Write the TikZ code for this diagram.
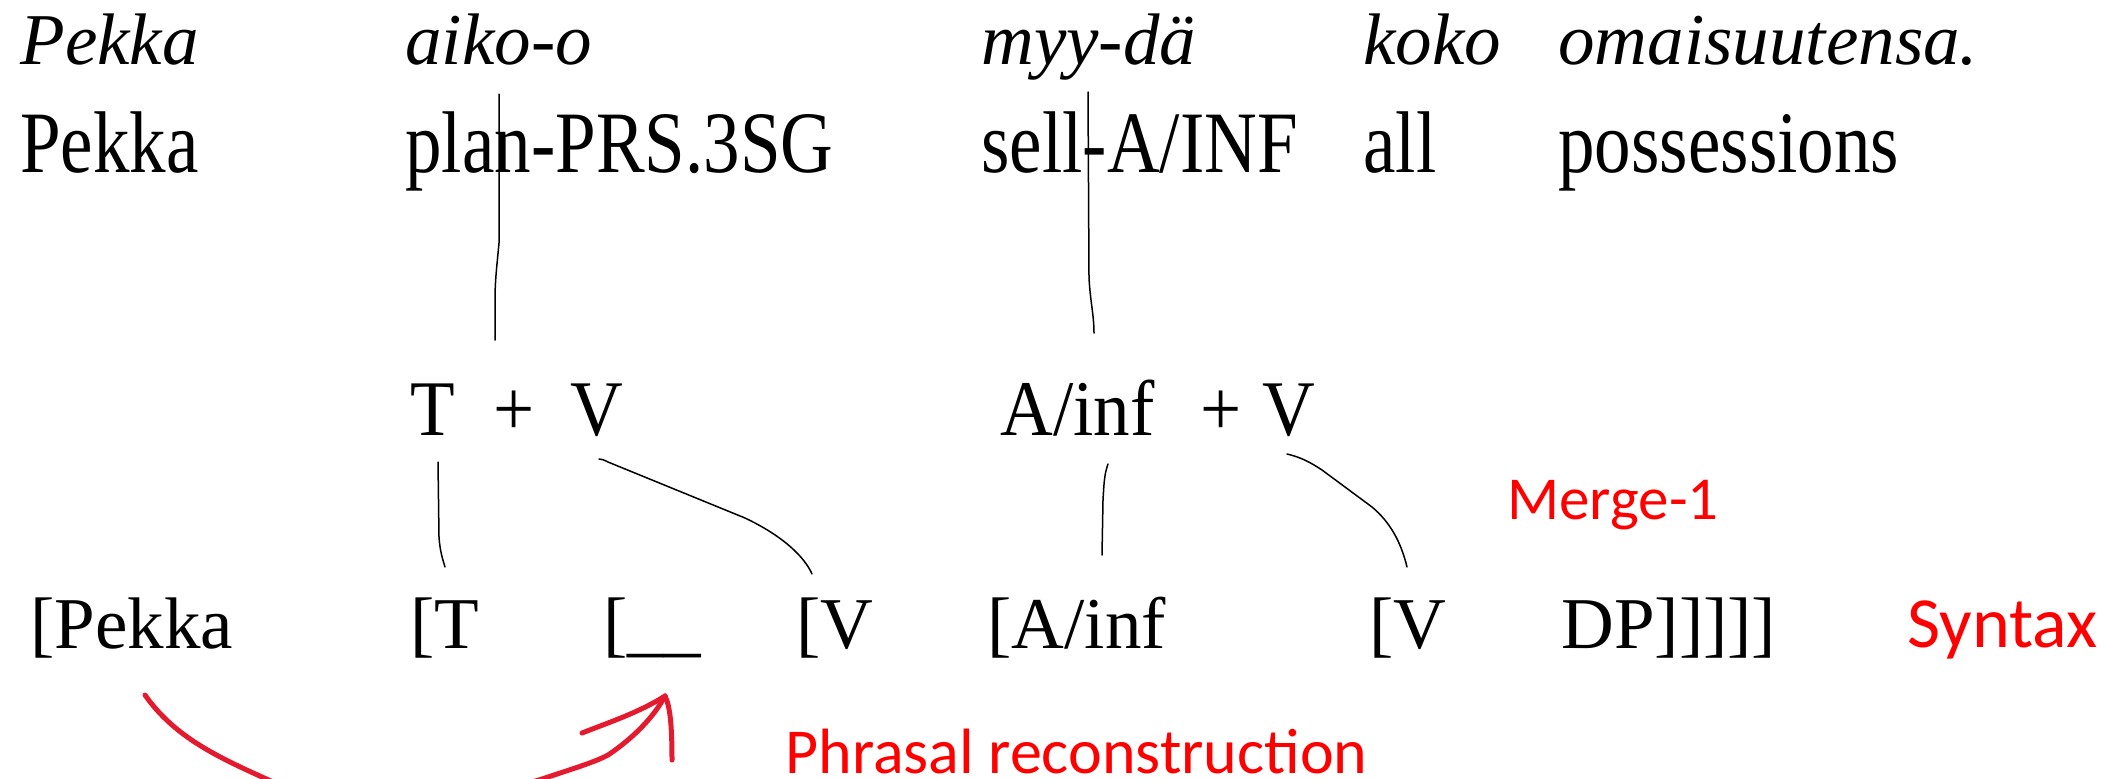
\documentclass[tikz,border=0pt]{standalone}
\usepackage{graphicx}
\usepackage{fontspec}
\setmainfont{Liberation Serif}
\newfontfamily\tnr{Liberation Serif}
\newfontfamily\calibri{Carlito}
\definecolor{slidered}{RGB}{255,0,0}
\definecolor{penred}{RGB}{228,26,46}
% the gloss rows are set a little taller than the source row
\newcommand\glossrow[1]{\scalebox{1}[1.2]{#1}}
\newcommand\headrow[1]{\scalebox{1}[1.08]{#1}}

\begin{document}
\begin{tikzpicture}[x=0.5pt,y=-0.5pt,
  gloss/.style={anchor=base west,inner sep=0pt,font=\tnr\fontsize{36.5}{40}\selectfont},
  src/.style={anchor=base west,inner sep=0pt,font=\tnr\fontsize{36.5}{40}\selectfont\itshape},
  lbl/.style={anchor=base west,inner sep=0pt,text=slidered},
  link/.style={line width=0.75pt,line cap=round,line join=round},
  pen/.style={penred,line width=2.5pt,line cap=round,line join=round}]

\useasboundingbox (0,0) rectangle (2116,778);
\fill[white] (0,0) rectangle (2116,778);

% source line (Finnish)
\node[src] (s1) at (20,64) {Pekka};
\node[src] (s2) at (405,64) {aiko-o};
\node[src] (s3) at (981,64) {myy-dä};
\node[src] (s4) at (1363,64) {koko};
\node[src] (s5) at (1558,64) {omaisuutensa.};

% glosses
\node[gloss] (g1) at (20,172) {\glossrow{Pekka}};
\node[gloss] (g2) at (405,172) {\glossrow{plan-PRS.3SG}};
\node[gloss] (g3) at (981,172) {\glossrow{sell-A/INF}};
\node[gloss] (g4) at (1363,172) {\glossrow{all}};
\node[gloss] (g5) at (1558,172) {\glossrow{possessions}};

% complex heads
\node[gloss] (hT) at (410,435) {\headrow{T}};
\node[gloss] (hP1) at (493,435) {\headrow{+}};
\node[gloss] (hV1) at (570,435) {\headrow{V}};
\node[gloss] (hA) at (1000,435) {\headrow{A/inf}};
\node[gloss] (hP2) at (1200,435) {\headrow{+}};
\node[gloss] (hV2) at (1262,435) {\headrow{V}};

% syntactic structure
\node[gloss] (b1) at (30,648) {[Pekka};
\node[gloss] (b2) at (410,648) {[T};
\node[gloss] (b3) at (603,648) {[\_\_};
\node[gloss] (b4) at (796,648) {[V};
\node[gloss] (b5) at (987,648) {[A/inf};
\node[gloss] (b6) at (1369,648) {[V};
\node[gloss] (b7) at (1561,648) {DP]]]]]};

% labels
\node[lbl,font=\calibri\fontsize{30.5}{34}\selectfont] (m1) at (1507,519) {Merge-1};
\node[lbl,font=\calibri\fontsize{36}{40}\selectfont] (sx) at (1907,647) {Syntax};
\node[lbl,font=\calibri\fontsize{32}{35}\selectfont] (pr) at (785,773) {Phrasal reconstruction};

% end points of the hand-drawn links
\coordinate (a1) at (499,94);   \coordinate (a2) at (495,340);
\coordinate (c1) at (1088,92);  \coordinate (c2) at (1094,333);
\coordinate (t1) at (438,462);  \coordinate (t2) at (445,567);
\coordinate (v1) at (599,459);  \coordinate (v2) at (812,574);
\coordinate (f1) at (1108,464); \coordinate (f2) at (1102,555);
\coordinate (w1) at (1287,454); \coordinate (w2) at (1407,567);

\draw[link] (a1) -- (499,243) .. controls (497,265) and (495,280) .. (495,300) -- (a2);
\draw[link] (c1) -- (1089,277) .. controls (1090,300) and (1094,315) .. (c2);
\draw[link] (t1) -- (439,537) .. controls (440,552) and (443,560) .. (t2);
\draw[link] (v1) .. controls (602,459) and (604,460) .. (608,462) -- (745,518) .. controls (785,537) and (805,558) .. (v2);
\draw[link] (f1) .. controls (1104,475) and (1104,485) .. (1103,500) -- (f2);
\draw[link] (w1) .. controls (1300,457) and (1310,462) .. (1322,470) -- (1372,507) .. controls (1390,522) and (1401,542) .. (w2);

% reconstruction arrow
\coordinate (r0) at (145,695);
\coordinate (tip) at (665,696);
\begin{scope}
  \clip (0,0) rectangle (2116,778);
  \draw[pen] (r0) .. controls (180,745) and (235,764) .. (295,792)
     .. controls (345,812) and (480,800) .. (545,778)
     .. controls (575,768) and (595,762) .. (608,755)
     .. controls (635,737) and (655,715) .. (tip);
  \draw[pen] (582,733) .. controls (610,722) and (640,712) .. (tip);
  \draw[pen] (tip) .. controls (670,706) and (672,725) .. (672,760);
\end{scope}
\end{tikzpicture}
\end{document}
